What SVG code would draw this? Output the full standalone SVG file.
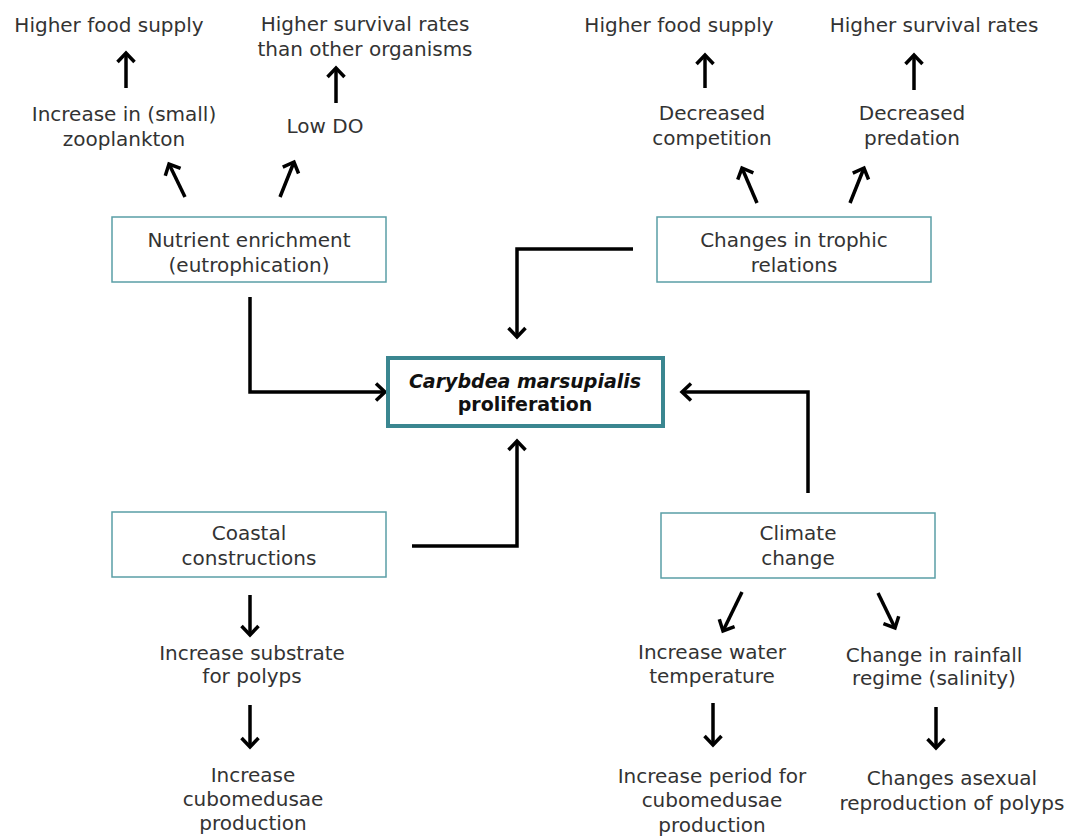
<svg xmlns="http://www.w3.org/2000/svg" width="1074" height="837" viewBox="0 0 1074 837">
<defs>
<style>
text{font-family:"DejaVu Sans","Liberation Sans",sans-serif;font-size:20px;fill:#333;text-anchor:middle}
.box{fill:#fff;stroke:#5a9ea6;stroke-width:1.5}
.main{fill:#fff;stroke:#3a8690;stroke-width:4}
.bt{font-weight:bold;fill:#111;font-size:19px}
.con{fill:none;stroke:#000;stroke-width:3.5;marker-end:url(#ah)}
</style>
<marker id="ah" markerUnits="userSpaceOnUse" markerWidth="24" markerHeight="24" refX="15" refY="12" orient="auto" viewBox="0 0 24 24">
<path d="M6,3.5 L15,12 L6,20.5" fill="none" stroke="#000" stroke-width="3.5"/>
</marker>
</defs>
<rect width="1074" height="837" fill="#fff"/>

<g id="connectors">
<path class="con" d="M250,297 V392 H385"/>
<path class="con" d="M633,249 H517 V337"/>
<path class="con" d="M412,546 H517 V441"/>
<path class="con" d="M808,493 V392 H682"/>
<path class="con" d="M126,88 V53"/>
<path class="con" d="M336,103 V68"/>
<path class="con" d="M185,197 L169,164"/>
<path class="con" d="M280,197 L294,162"/>
<path class="con" d="M705,88 V55"/>
<path class="con" d="M914,90 V55"/>
<path class="con" d="M757,203 L742,168"/>
<path class="con" d="M850,203 L864,168"/>
<path class="con" d="M250,595 V635"/>
<path class="con" d="M250,705 V747"/>
<path class="con" d="M742,592 L723,631"/>
<path class="con" d="M878,593 L895,628"/>
<path class="con" d="M713,703 V745"/>
<path class="con" d="M936,707 V748"/>
</g>

<g id="center">
<rect class="main" x="388" y="358" width="275" height="68"/>
<text class="bt" x="525" y="388" font-style="italic">Carybdea marsupialis</text>
<text class="bt" x="525" y="411">proliferation</text>
</g>

<g id="nutrient">
<rect class="box" x="112" y="217" width="274" height="65"/>
<text x="249" y="247">Nutrient enrichment</text>
<text x="249" y="272">(eutrophication)</text>
</g>

<g id="trophic">
<rect class="box" x="657" y="217" width="274" height="65"/>
<text x="794" y="247">Changes in trophic</text>
<text x="794" y="272">relations</text>
</g>

<g id="coastal">
<rect class="box" x="112" y="512" width="274" height="65"/>
<text x="249" y="540">Coastal</text>
<text x="249" y="565">constructions</text>
</g>

<g id="climate">
<rect class="box" x="661" y="513" width="274" height="65"/>
<text x="798" y="540">Climate</text>
<text x="798" y="565">change</text>
</g>

<g id="food1"><text x="109" y="32">Higher food supply</text></g>
<g id="zoo"><text x="124" y="121">Increase in (small)</text><text x="124" y="146">zooplankton</text></g>
<g id="surv1"><text x="365" y="31">Higher survival rates</text><text x="365" y="56">than other organisms</text></g>
<g id="lowdo"><text x="325" y="133">Low DO</text></g>

<g id="food2"><text x="679" y="32">Higher food supply</text></g>
<g id="surv2"><text x="934" y="32">Higher survival rates</text></g>
<g id="comp"><text x="712" y="120">Decreased</text><text x="712" y="145">competition</text></g>
<g id="pred"><text x="912" y="120">Decreased</text><text x="912" y="145">predation</text></g>

<g id="substrate"><text x="252" y="660">Increase substrate</text><text x="252" y="683">for polyps</text></g>
<g id="prod1"><text x="253" y="782">Increase</text><text x="253" y="806">cubomedusae</text><text x="253" y="830">production</text></g>

<g id="temp"><text x="712" y="659">Increase water</text><text x="712" y="683">temperature</text></g>
<g id="rain"><text x="934" y="662">Change in rainfall</text><text x="934" y="685">regime (salinity)</text></g>
<g id="period"><text x="712" y="783">Increase period for</text><text x="712" y="807">cubomedusae</text><text x="712" y="832">production</text></g>
<g id="asexual"><text x="952" y="785">Changes asexual</text><text x="952" y="810">reproduction of polyps</text></g>
</svg>
